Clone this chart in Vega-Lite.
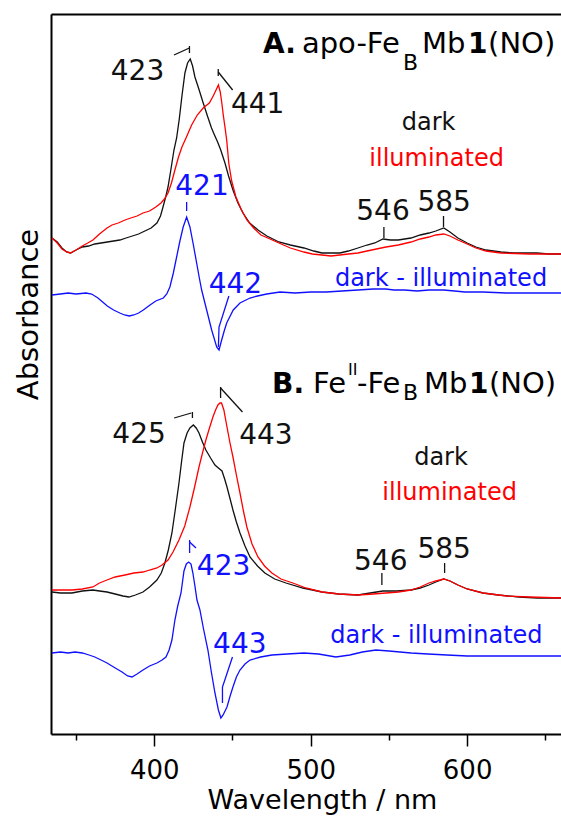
{
  "$schema": "https://vega.github.io/schema/vega-lite/v6.json",
  "width": 510,
  "height": 720,
  "autosize": {"type": "none"},
  "padding": {"left": 51, "top": 14, "right": 0, "bottom": 86},
  "background": "white",
  "config": {"view": {"stroke": null}, "axis": {"grid": false}},
  "datasets": {
    "spec": [
      {"s":"A_dark","x":334.6,"y":496},{"s":"A_dark","x":338,"y":492},{"s":"A_dark","x":341,"y":486},{"s":"A_dark","x":344,"y":482},{"s":"A_dark","x":346.5,"y":481},{"s":"A_dark","x":350,"y":484},{"s":"A_dark","x":354,"y":487},{"s":"A_dark","x":358,"y":488},{"s":"A_dark","x":362,"y":490},{"s":"A_dark","x":366,"y":491},{"s":"A_dark","x":370,"y":492},{"s":"A_dark","x":374,"y":493},{"s":"A_dark","x":378,"y":494},{"s":"A_dark","x":382,"y":496},{"s":"A_dark","x":386,"y":498},{"s":"A_dark","x":390,"y":500},{"s":"A_dark","x":394,"y":503},{"s":"A_dark","x":398,"y":506},{"s":"A_dark","x":401.7,"y":511},{"s":"A_dark","x":404,"y":518},{"s":"A_dark","x":405.6,"y":527},{"s":"A_dark","x":407.3,"y":537},{"s":"A_dark","x":408.8,"y":547},{"s":"A_dark","x":410.7,"y":565},{"s":"A_dark","x":412.6,"y":584},{"s":"A_dark","x":414.3,"y":596},{"s":"A_dark","x":416,"y":615},{"s":"A_dark","x":417.7,"y":638},{"s":"A_dark","x":419.6,"y":661},{"s":"A_dark","x":421.3,"y":671},{"s":"A_dark","x":423,"y":675},{"s":"A_dark","x":424.5,"y":668},{"s":"A_dark","x":426,"y":657},{"s":"A_dark","x":428.5,"y":645},{"s":"A_dark","x":431.3,"y":631},{"s":"A_dark","x":434,"y":618},{"s":"A_dark","x":436.6,"y":606},{"s":"A_dark","x":438.5,"y":599},{"s":"A_dark","x":440.5,"y":592},{"s":"A_dark","x":442.5,"y":584},{"s":"A_dark","x":445.2,"y":571},{"s":"A_dark","x":447.5,"y":558},{"s":"A_dark","x":450.3,"y":544},{"s":"A_dark","x":453.5,"y":531},{"s":"A_dark","x":456.7,"y":521},{"s":"A_dark","x":461,"y":511},{"s":"A_dark","x":466.3,"y":504},{"s":"A_dark","x":472,"y":498},{"s":"A_dark","x":479.7,"y":492},{"s":"A_dark","x":487,"y":489},{"s":"A_dark","x":495.7,"y":486},{"s":"A_dark","x":502,"y":483},{"s":"A_dark","x":507.2,"y":481},{"s":"A_dark","x":513,"y":481},{"s":"A_dark","x":518.7,"y":481},{"s":"A_dark","x":524,"y":483},{"s":"A_dark","x":530.2,"y":486},{"s":"A_dark","x":536,"y":489},{"s":"A_dark","x":541,"y":491},{"s":"A_dark","x":546.2,"y":495},{"s":"A_dark","x":551,"y":494},{"s":"A_dark","x":556,"y":494},{"s":"A_dark","x":564.1,"y":496},{"s":"A_dark","x":570,"y":499},{"s":"A_dark","x":575.6,"y":501},{"s":"A_dark","x":580,"y":503},{"s":"A_dark","x":585.1,"y":506},{"s":"A_dark","x":589,"y":502},{"s":"A_dark","x":594.1,"y":496},{"s":"A_dark","x":600,"y":491},{"s":"A_dark","x":605.6,"y":487},{"s":"A_dark","x":612,"y":484},{"s":"A_dark","x":621.6,"y":482},{"s":"A_dark","x":630,"y":481},{"s":"A_dark","x":644.6,"y":481},{"s":"A_dark","x":652,"y":480},{"s":"A_dark","x":660,"y":480},
      {"s":"A_ill","x":334.6,"y":496},{"s":"A_ill","x":338,"y":491},{"s":"A_ill","x":341,"y":485},{"s":"A_ill","x":344,"y":482},{"s":"A_ill","x":346.5,"y":481},{"s":"A_ill","x":350,"y":484},{"s":"A_ill","x":354,"y":488},{"s":"A_ill","x":357.5,"y":491},{"s":"A_ill","x":360.8,"y":494},{"s":"A_ill","x":365,"y":500},{"s":"A_ill","x":369.8,"y":506},{"s":"A_ill","x":373,"y":509},{"s":"A_ill","x":377,"y":511},{"s":"A_ill","x":381.3,"y":514},{"s":"A_ill","x":385,"y":516},{"s":"A_ill","x":389,"y":518},{"s":"A_ill","x":392.8,"y":521},{"s":"A_ill","x":397,"y":523},{"s":"A_ill","x":401,"y":527},{"s":"A_ill","x":404.3,"y":531},{"s":"A_ill","x":406.5,"y":535},{"s":"A_ill","x":408.8,"y":541},{"s":"A_ill","x":411,"y":551},{"s":"A_ill","x":413.2,"y":564},{"s":"A_ill","x":415.5,"y":577},{"s":"A_ill","x":417.7,"y":587},{"s":"A_ill","x":420.3,"y":596},{"s":"A_ill","x":423.9,"y":609},{"s":"A_ill","x":427.5,"y":619},{"s":"A_ill","x":431.3,"y":626},{"s":"A_ill","x":435.2,"y":631},{"s":"A_ill","x":437.7,"y":638},{"s":"A_ill","x":439.5,"y":644},{"s":"A_ill","x":441,"y":649},{"s":"A_ill","x":442.2,"y":642},{"s":"A_ill","x":443.1,"y":632},{"s":"A_ill","x":444.2,"y":618},{"s":"A_ill","x":445.2,"y":607},{"s":"A_ill","x":446.3,"y":594},{"s":"A_ill","x":447.7,"y":570},{"s":"A_ill","x":449.5,"y":553},{"s":"A_ill","x":452.2,"y":537},{"s":"A_ill","x":455.5,"y":525},{"s":"A_ill","x":459.2,"y":514},{"s":"A_ill","x":463.5,"y":506},{"s":"A_ill","x":468.2,"y":499},{"s":"A_ill","x":474,"y":495},{"s":"A_ill","x":479.7,"y":491},{"s":"A_ill","x":487,"y":486},{"s":"A_ill","x":495.7,"y":482},{"s":"A_ill","x":501,"y":480},{"s":"A_ill","x":507.2,"y":479},{"s":"A_ill","x":513,"y":478},{"s":"A_ill","x":518.7,"y":479},{"s":"A_ill","x":524,"y":480},{"s":"A_ill","x":530.2,"y":481},{"s":"A_ill","x":536,"y":483},{"s":"A_ill","x":542,"y":485},{"s":"A_ill","x":548.1,"y":487},{"s":"A_ill","x":556,"y":489},{"s":"A_ill","x":564.1,"y":492},{"s":"A_ill","x":570,"y":495},{"s":"A_ill","x":575.6,"y":497},{"s":"A_ill","x":580,"y":499},{"s":"A_ill","x":585.1,"y":500},{"s":"A_ill","x":589,"y":498},{"s":"A_ill","x":594.1,"y":494},{"s":"A_ill","x":600,"y":490},{"s":"A_ill","x":605.6,"y":486},{"s":"A_ill","x":612,"y":483},{"s":"A_ill","x":621.6,"y":481},{"s":"A_ill","x":640,"y":480},{"s":"A_ill","x":660,"y":480},
      {"s":"A_diff","x":334.6,"y":439},{"s":"A_diff","x":340,"y":440},{"s":"A_diff","x":345,"y":441},{"s":"A_diff","x":350,"y":440},{"s":"A_diff","x":356.4,"y":441},{"s":"A_diff","x":360,"y":440},{"s":"A_diff","x":364,"y":436},{"s":"A_diff","x":367,"y":432},{"s":"A_diff","x":370,"y":428},{"s":"A_diff","x":374,"y":424},{"s":"A_diff","x":378,"y":421},{"s":"A_diff","x":381,"y":419},{"s":"A_diff","x":384,"y":418},{"s":"A_diff","x":387,"y":419},{"s":"A_diff","x":390,"y":421},{"s":"A_diff","x":393,"y":424},{"s":"A_diff","x":397.3,"y":429},{"s":"A_diff","x":401,"y":433},{"s":"A_diff","x":405.8,"y":436},{"s":"A_diff","x":408,"y":440},{"s":"A_diff","x":410,"y":447},{"s":"A_diff","x":412.2,"y":461},{"s":"A_diff","x":414.3,"y":477},{"s":"A_diff","x":416.4,"y":493},{"s":"A_diff","x":418.5,"y":507},{"s":"A_diff","x":420.7,"y":517},{"s":"A_diff","x":422.8,"y":507},{"s":"A_diff","x":424.9,"y":490},{"s":"A_diff","x":427.1,"y":471},{"s":"A_diff","x":428.7,"y":457},{"s":"A_diff","x":430.3,"y":444},{"s":"A_diff","x":433.5,"y":424},{"s":"A_diff","x":436.7,"y":404},{"s":"A_diff","x":439.9,"y":387},{"s":"A_diff","x":441.4,"y":384},{"s":"A_diff","x":443.1,"y":394},{"s":"A_diff","x":444.7,"y":403},{"s":"A_diff","x":446.3,"y":411},{"s":"A_diff","x":450.5,"y":424},{"s":"A_diff","x":454.8,"y":431},{"s":"A_diff","x":461.2,"y":436},{"s":"A_diff","x":466,"y":438},{"s":"A_diff","x":471.9,"y":440},{"s":"A_diff","x":480.4,"y":442},{"s":"A_diff","x":490,"y":441},{"s":"A_diff","x":500,"y":442},{"s":"A_diff","x":510,"y":442},{"s":"A_diff","x":520,"y":443},{"s":"A_diff","x":530.2,"y":444},{"s":"A_diff","x":540,"y":445},{"s":"A_diff","x":548,"y":445},{"s":"A_diff","x":553.2,"y":444},{"s":"A_diff","x":560,"y":444},{"s":"A_diff","x":568,"y":443},{"s":"A_diff","x":575.6,"y":444},{"s":"A_diff","x":585,"y":444},{"s":"A_diff","x":592,"y":443},{"s":"A_diff","x":598.6,"y":442},{"s":"A_diff","x":610,"y":442},{"s":"A_diff","x":625,"y":441},{"s":"A_diff","x":640,"y":441},{"s":"A_diff","x":660,"y":441},
      {"s":"B_dark","x":334.6,"y":142},{"s":"B_dark","x":340,"y":141},{"s":"B_dark","x":347.4,"y":141},{"s":"B_dark","x":354,"y":143},{"s":"B_dark","x":360.8,"y":144},{"s":"B_dark","x":365,"y":143},{"s":"B_dark","x":369.8,"y":142},{"s":"B_dark","x":375,"y":140},{"s":"B_dark","x":380,"y":138},{"s":"B_dark","x":383.8,"y":137},{"s":"B_dark","x":388,"y":139},{"s":"B_dark","x":392.8,"y":142},{"s":"B_dark","x":397,"y":147},{"s":"B_dark","x":401.7,"y":154},{"s":"B_dark","x":404.5,"y":161},{"s":"B_dark","x":406.8,"y":171},{"s":"B_dark","x":409,"y":184},{"s":"B_dark","x":411.3,"y":201},{"s":"B_dark","x":413.5,"y":225},{"s":"B_dark","x":415.8,"y":251},{"s":"B_dark","x":417.5,"y":273},{"s":"B_dark","x":419,"y":291},{"s":"B_dark","x":421,"y":301},{"s":"B_dark","x":422.8,"y":306},{"s":"B_dark","x":425,"y":309},{"s":"B_dark","x":426.8,"y":306},{"s":"B_dark","x":428.6,"y":301},{"s":"B_dark","x":430.8,"y":292},{"s":"B_dark","x":433,"y":284},{"s":"B_dark","x":436,"y":276},{"s":"B_dark","x":438.8,"y":269},{"s":"B_dark","x":441,"y":266},{"s":"B_dark","x":443.3,"y":263},{"s":"B_dark","x":445,"y":255},{"s":"B_dark","x":446.5,"y":247},{"s":"B_dark","x":448.5,"y":235},{"s":"B_dark","x":450.3,"y":224},{"s":"B_dark","x":452.5,"y":212},{"s":"B_dark","x":454.8,"y":201},{"s":"B_dark","x":458,"y":188},{"s":"B_dark","x":461.2,"y":177},{"s":"B_dark","x":466,"y":168},{"s":"B_dark","x":470.7,"y":161},{"s":"B_dark","x":477,"y":155},{"s":"B_dark","x":484.2,"y":151},{"s":"B_dark","x":495,"y":146},{"s":"B_dark","x":507.2,"y":142},{"s":"B_dark","x":518,"y":140},{"s":"B_dark","x":530.2,"y":139},{"s":"B_dark","x":538,"y":141},{"s":"B_dark","x":546.2,"y":143},{"s":"B_dark","x":555,"y":143},{"s":"B_dark","x":564.1,"y":144},{"s":"B_dark","x":570,"y":146},{"s":"B_dark","x":575.6,"y":149},{"s":"B_dark","x":580,"y":152},{"s":"B_dark","x":585.1,"y":155},{"s":"B_dark","x":589,"y":153},{"s":"B_dark","x":594.1,"y":149},{"s":"B_dark","x":600,"y":145},{"s":"B_dark","x":610.1,"y":141},{"s":"B_dark","x":620,"y":139},{"s":"B_dark","x":633.1,"y":137},{"s":"B_dark","x":645,"y":136},{"s":"B_dark","x":660,"y":136},
      {"s":"B_ill","x":334.6,"y":144},{"s":"B_ill","x":340,"y":144},{"s":"B_ill","x":347.4,"y":144},{"s":"B_ill","x":354,"y":145},{"s":"B_ill","x":360.8,"y":147},{"s":"B_ill","x":365,"y":151},{"s":"B_ill","x":369.8,"y":154},{"s":"B_ill","x":375,"y":157},{"s":"B_ill","x":381.3,"y":159},{"s":"B_ill","x":387,"y":161},{"s":"B_ill","x":392.8,"y":162},{"s":"B_ill","x":397,"y":164},{"s":"B_ill","x":401.7,"y":166},{"s":"B_ill","x":405,"y":169},{"s":"B_ill","x":408.8,"y":174},{"s":"B_ill","x":412,"y":182},{"s":"B_ill","x":415.8,"y":194},{"s":"B_ill","x":419.5,"y":208},{"s":"B_ill","x":422.8,"y":227},{"s":"B_ill","x":425.8,"y":247},{"s":"B_ill","x":428.6,"y":267},{"s":"B_ill","x":431,"y":282},{"s":"B_ill","x":433,"y":294},{"s":"B_ill","x":435.3,"y":306},{"s":"B_ill","x":437.5,"y":317},{"s":"B_ill","x":439.2,"y":324},{"s":"B_ill","x":440.7,"y":329},{"s":"B_ill","x":442,"y":331},{"s":"B_ill","x":443,"y":331},{"s":"B_ill","x":444.5,"y":324},{"s":"B_ill","x":446.5,"y":307},{"s":"B_ill","x":448.3,"y":292},{"s":"B_ill","x":450.3,"y":277},{"s":"B_ill","x":452.5,"y":259},{"s":"B_ill","x":454.8,"y":241},{"s":"B_ill","x":457,"y":223},{"s":"B_ill","x":459.2,"y":207},{"s":"B_ill","x":462.5,"y":190},{"s":"B_ill","x":466.3,"y":177},{"s":"B_ill","x":470.5,"y":168},{"s":"B_ill","x":475.2,"y":161},{"s":"B_ill","x":481,"y":155},{"s":"B_ill","x":488.6,"y":151},{"s":"B_ill","x":497,"y":146},{"s":"B_ill","x":507.2,"y":142},{"s":"B_ill","x":518,"y":140},{"s":"B_ill","x":530.2,"y":139},{"s":"B_ill","x":540,"y":140},{"s":"B_ill","x":548.1,"y":141},{"s":"B_ill","x":556,"y":142},{"s":"B_ill","x":564.1,"y":144},{"s":"B_ill","x":570,"y":147},{"s":"B_ill","x":575.6,"y":151},{"s":"B_ill","x":580,"y":153},{"s":"B_ill","x":585.1,"y":155},{"s":"B_ill","x":589,"y":153},{"s":"B_ill","x":594.1,"y":149},{"s":"B_ill","x":600,"y":145},{"s":"B_ill","x":610.1,"y":141},{"s":"B_ill","x":625,"y":138},{"s":"B_ill","x":640,"y":137},{"s":"B_ill","x":660,"y":136},
      {"s":"B_diff","x":334.6,"y":81},{"s":"B_diff","x":340,"y":82},{"s":"B_diff","x":345,"y":81},{"s":"B_diff","x":349.3,"y":82},{"s":"B_diff","x":354,"y":81},{"s":"B_diff","x":358.3,"y":79},{"s":"B_diff","x":362,"y":77},{"s":"B_diff","x":366,"y":74},{"s":"B_diff","x":369.8,"y":71},{"s":"B_diff","x":374,"y":67},{"s":"B_diff","x":379.4,"y":62},{"s":"B_diff","x":383,"y":58},{"s":"B_diff","x":385.8,"y":57},{"s":"B_diff","x":389,"y":60},{"s":"B_diff","x":392.8,"y":64},{"s":"B_diff","x":397,"y":68},{"s":"B_diff","x":401.7,"y":71},{"s":"B_diff","x":405,"y":74},{"s":"B_diff","x":407.5,"y":77},{"s":"B_diff","x":409.5,"y":84},{"s":"B_diff","x":411.3,"y":94},{"s":"B_diff","x":413.2,"y":114},{"s":"B_diff","x":415,"y":128},{"s":"B_diff","x":417.1,"y":141},{"s":"B_diff","x":419,"y":163},{"s":"B_diff","x":420.5,"y":170},{"s":"B_diff","x":422,"y":172},{"s":"B_diff","x":423.5,"y":170},{"s":"B_diff","x":424.7,"y":161},{"s":"B_diff","x":426,"y":148},{"s":"B_diff","x":427.3,"y":134},{"s":"B_diff","x":429.2,"y":124},{"s":"B_diff","x":431.5,"y":105},{"s":"B_diff","x":434.3,"y":84},{"s":"B_diff","x":436.5,"y":62},{"s":"B_diff","x":438.8,"y":41},{"s":"B_diff","x":441,"y":24},{"s":"B_diff","x":442.6,"y":16},{"s":"B_diff","x":444,"y":19},{"s":"B_diff","x":446.5,"y":27},{"s":"B_diff","x":448.5,"y":38},{"s":"B_diff","x":450.3,"y":47},{"s":"B_diff","x":452.5,"y":57},{"s":"B_diff","x":454.8,"y":64},{"s":"B_diff","x":458,"y":70},{"s":"B_diff","x":461.2,"y":74},{"s":"B_diff","x":468,"y":77},{"s":"B_diff","x":475.2,"y":79},{"s":"B_diff","x":485,"y":80},{"s":"B_diff","x":495.7,"y":81},{"s":"B_diff","x":505,"y":80},{"s":"B_diff","x":516.1,"y":77},{"s":"B_diff","x":525,"y":79},{"s":"B_diff","x":533,"y":82},{"s":"B_diff","x":541.7,"y":84},{"s":"B_diff","x":550,"y":83},{"s":"B_diff","x":564.1,"y":81},{"s":"B_diff","x":575,"y":80},{"s":"B_diff","x":587.1,"y":79},{"s":"B_diff","x":600,"y":78},{"s":"B_diff","x":620,"y":78},{"s":"B_diff","x":640,"y":78},{"s":"B_diff","x":660,"y":78}
    ],
    "ann": [
      {"id":"a1","s":"A_dark","o":0,"x":412.6,"y":679},{"id":"a1","s":"A_dark","o":1,"x":422.5,"y":686},
      {"id":"a2","s":"A_dark","o":0,"x":422.5,"y":688},{"id":"a2","s":"A_dark","o":1,"x":422.5,"y":681},
      {"id":"a3","s":"A_dark","o":0,"x":440.9,"y":665},{"id":"a3","s":"A_dark","o":1,"x":440.9,"y":658},
      {"id":"a4","s":"A_dark","o":0,"x":440.9,"y":662},{"id":"a4","s":"A_dark","o":1,"x":450.1,"y":644},
      {"id":"a5","s":"A_diff","o":0,"x":420.7,"y":532},{"id":"a5","s":"A_diff","o":1,"x":420.7,"y":523},
      {"id":"a6","s":"A_diff","o":0,"x":447.7,"y":438},{"id":"a6","s":"A_diff","o":1,"x":441.4,"y":407},{"id":"a6","s":"A_diff","o":2,"x":441.0,"y":387},
      {"id":"a7","s":"A_dark","o":0,"x":546.8,"y":507},{"id":"a7","s":"A_dark","o":1,"x":546.8,"y":496},
      {"id":"a8","s":"A_dark","o":0,"x":584.9,"y":518},{"id":"a8","s":"A_dark","o":1,"x":584.9,"y":507},
      {"id":"b1","s":"B_dark","o":0,"x":412.7,"y":316},{"id":"b1","s":"B_dark","o":1,"x":423.7,"y":321},
      {"id":"b2","s":"B_dark","o":0,"x":424.4,"y":322},{"id":"b2","s":"B_dark","o":1,"x":424.4,"y":316},
      {"id":"b3","s":"B_dark","o":0,"x":442.4,"y":347},{"id":"b3","s":"B_dark","o":1,"x":442.4,"y":336},
      {"id":"b4","s":"B_dark","o":0,"x":442.4,"y":346},{"id":"b4","s":"B_dark","o":1,"x":456.4,"y":322},
      {"id":"b5","s":"B_diff","o":0,"x":422.6,"y":194},{"id":"b5","s":"B_diff","o":1,"x":422.6,"y":181},
      {"id":"b6","s":"B_diff","o":0,"x":422.6,"y":192},{"id":"b6","s":"B_diff","o":1,"x":426.7,"y":186},
      {"id":"b7","s":"B_diff","o":0,"x":450,"y":77},{"id":"b7","s":"B_diff","o":1,"x":443.6,"y":47},{"id":"b7","s":"B_diff","o":2,"x":443.6,"y":31},
      {"id":"b8","s":"B_dark","o":0,"x":545.5,"y":161},{"id":"b8","s":"B_dark","o":1,"x":545.5,"y":149},
      {"id":"b9","s":"B_dark","o":0,"x":585.6,"y":171},{"id":"b9","s":"B_dark","o":1,"x":585.6,"y":161}
    ],
    "lbl": [
      {"k":"num","s":"A_dark","t":"423","x":389.3,"y":654},
      {"k":"num","s":"A_dark","t":"441","x":466.1,"y":621},
      {"k":"num","s":"A_diff","t":"421","x":430.5,"y":539},
      {"k":"num","s":"A_dark","t":"546","x":546.2,"y":514},
      {"k":"num","s":"A_dark","t":"585","x":585.3,"y":523},
      {"k":"num","s":"A_diff","t":"442","x":451.9,"y":441},
      {"k":"leg","s":"A_dark","t":"dark","x":575.4,"y":604},
      {"k":"leg","s":"A_ill","t":"illuminated","x":580.5,"y":568},
      {"k":"leg","s":"A_diff","t":"dark - illuminated","x":583.3,"y":448},
      {"k":"num","s":"B_dark","t":"425","x":390.3,"y":291},
      {"k":"num","s":"B_dark","t":"443","x":471.4,"y":290},
      {"k":"num","s":"B_diff","t":"423","x":444.3,"y":159},
      {"k":"num","s":"B_dark","t":"546","x":544.8,"y":164},
      {"k":"num","s":"B_dark","t":"585","x":585.3,"y":176},
      {"k":"num","s":"B_diff","t":"443","x":454.7,"y":81},
      {"k":"leg","s":"B_dark","t":"dark","x":583.3,"y":269},
      {"k":"leg","s":"B_ill","t":"illuminated","x":588.8,"y":234},
      {"k":"leg","s":"B_diff","t":"dark - illuminated","x":580.4,"y":91}
    ],
    "ttl": [
      {"k":"bold","t":"A.","x":469.5,"y":681},
      {"k":"norm","t":"apo-Fe","x":494.4,"y":681},
      {"k":"sub","t":"B","x":559.0,"y":664},
      {"k":"norm","t":"Mb","x":571.2,"y":681},
      {"k":"bold","t":"1","x":600.5,"y":681},
      {"k":"norm","t":"(NO)","x":613.4,"y":681},
      {"k":"bold","t":"B.","x":475.3,"y":341},
      {"k":"norm","t":"Fe","x":501.5,"y":341},
      {"k":"sup","t":"II","x":523.8,"y":359},
      {"k":"norm","t":"-Fe","x":529.6,"y":341},
      {"k":"sub","t":"B","x":559.0,"y":334},
      {"k":"norm","t":"Mb","x":572.4,"y":341},
      {"k":"bold","t":"1","x":601.2,"y":341},
      {"k":"norm","t":"(NO)","x":614.0,"y":341}
    ]
  },
  "resolve": {"axis": {"x": "independent", "y": "independent"}},
  "layer": [
    {
      "data": {"name": "spec"},
      "mark": {"type": "line", "strokeWidth": 1.3},
      "encoding": {
        "x": {"field": "x", "type": "quantitative",
          "scale": {"domain": [334, 660], "nice": false, "zero": false},
          "axis": {"orient": "bottom", "values": [350, 400, 450, 500, 550, 600, 650], "title": "Wavelength / nm",
            "tickSize": 12, "tickWidth": 1.5, "tickColor": "black",
            "tickDash": {"condition": {"test": "datum.value % 100 !== 0", "value": [6, 30]}, "value": [30, 0]},
            "labelExpr": "datum.value % 100 === 0 ? datum.label : ''",
            "domainColor": "black", "domainWidth": 2, "labelFont": "DejaVu Sans", "labelFontSize": 26, "labelColor": "black",
            "labelBaseline": "alphabetic", "labelPadding": 32, "labelFlush": false, "labelOverlap": false,
            "titleFont": "DejaVu Sans", "titleFontSize": 27, "titleFontWeight": "normal", "titleColor": "black",
            "titleBaseline": "alphabetic", "titleAlign": "center", "titleX": 271, "titleY": 74}},
        "y": {"field": "y", "type": "quantitative",
          "scale": {"domain": [0, 720], "nice": false, "zero": false},
          "axis": {"title": "Absorbance", "ticks": false, "labels": false, "domainColor": "black", "domainWidth": 2,
            "titleFont": "DejaVu Sans", "titleFontSize": 29, "titleFontWeight": "normal", "titleColor": "black",
            "titleAngle": 270, "titleBaseline": "alphabetic", "titleAlign": "center", "titleX": -14, "titleY": 300}},
        "color": {"field": "s", "type": "nominal", "legend": null,
          "scale": {"domain": ["A_dark", "A_ill", "A_diff", "B_dark", "B_ill", "B_diff"],
                    "range": ["#111111", "#ff0000", "#1010ff", "#111111", "#ff0000", "#1010ff"]}},
        "detail": {"field": "s"}
      }
    },
    {
      "data": {"name": "ann"},
      "mark": {"type": "line", "strokeWidth": 1.3},
      "encoding": {
        "x": {"field": "x", "type": "quantitative", "axis": null},
        "y": {"field": "y", "type": "quantitative", "axis": null},
        "color": {"field": "s", "type": "nominal", "legend": null},
        "detail": {"field": "id"},
        "order": {"field": "o"}
      }
    },
    {
      "data": {"name": "lbl"},
      "transform": [{"filter": "datum.k === 'num'"}],
      "mark": {"type": "text", "font": "DejaVu Sans", "fontSize": 28, "align": "center", "baseline": "alphabetic"},
      "encoding": {
        "x": {"field": "x", "type": "quantitative",
          "axis": {"orient": "top", "title": null, "labels": false, "ticks": false, "domain": true, "domainColor": "black", "domainWidth": 2}},
        "y": {"field": "y", "type": "quantitative", "axis": null},
        "text": {"field": "t"},
        "color": {"field": "s", "type": "nominal", "legend": null}
      }
    },
    {
      "data": {"name": "lbl"},
      "transform": [{"filter": "datum.k === 'leg'"}],
      "mark": {"type": "text", "font": "DejaVu Sans", "fontSize": 24, "align": "center", "baseline": "alphabetic"},
      "encoding": {
        "x": {"field": "x", "type": "quantitative", "axis": null},
        "y": {"field": "y", "type": "quantitative", "axis": null},
        "text": {"field": "t"},
        "color": {"field": "s", "type": "nominal", "legend": null}
      }
    },
    {
      "data": {"name": "ttl"},
      "transform": [{"filter": "datum.k === 'bold'"}],
      "mark": {"type": "text", "font": "DejaVu Sans", "fontSize": 28, "fontWeight": "bold", "align": "left", "baseline": "alphabetic", "color": "black"},
      "encoding": {
        "x": {"field": "x", "type": "quantitative", "axis": null},
        "y": {"field": "y", "type": "quantitative", "axis": null},
        "text": {"field": "t"}
      }
    },
    {
      "data": {"name": "ttl"},
      "transform": [{"filter": "datum.k === 'norm'"}],
      "mark": {"type": "text", "font": "DejaVu Sans", "fontSize": 29, "align": "left", "baseline": "alphabetic", "color": "black"},
      "encoding": {
        "x": {"field": "x", "type": "quantitative", "axis": null},
        "y": {"field": "y", "type": "quantitative", "axis": null},
        "text": {"field": "t"}
      }
    },
    {
      "data": {"name": "ttl"},
      "transform": [{"filter": "datum.k === 'sub'"}],
      "mark": {"type": "text", "font": "DejaVu Sans", "fontSize": 22, "align": "left", "baseline": "alphabetic", "color": "black"},
      "encoding": {
        "x": {"field": "x", "type": "quantitative", "axis": null},
        "y": {"field": "y", "type": "quantitative", "axis": null},
        "text": {"field": "t"}
      }
    },
    {
      "data": {"name": "ttl"},
      "transform": [{"filter": "datum.k === 'sup'"}],
      "mark": {"type": "text", "font": "DejaVu Sans", "fontSize": 16, "align": "left", "baseline": "alphabetic", "color": "black"},
      "encoding": {
        "x": {"field": "x", "type": "quantitative", "axis": null},
        "y": {"field": "y", "type": "quantitative", "axis": null},
        "text": {"field": "t"}
      }
    }
  ]
}
